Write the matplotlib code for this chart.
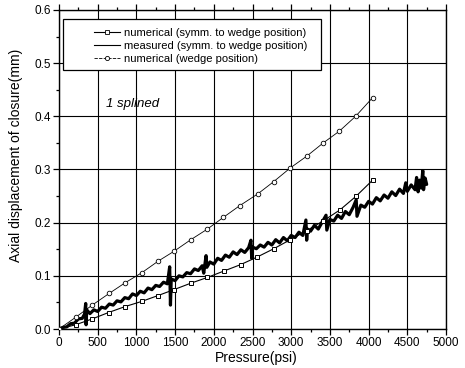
import matplotlib
matplotlib.use("Agg")
import matplotlib.pyplot as plt
from matplotlib.lines import Line2D
from matplotlib.patches import Rectangle
from matplotlib.ticker import MultipleLocator, FormatStrFormatter

plt.rcParams['font.family'] = ['Liberation Sans', 'DejaVu Sans']

# Numerical model, wedge position
p_wedge = [0, 215, 430, 649, 855, 1071, 1285, 1484, 1703, 1918, 2124, 2335,
           2567, 2772, 2989, 3200, 3414, 3621, 3832, 4051]
d_wedge = [0.000, 0.022, 0.045, 0.067, 0.087, 0.106, 0.128, 0.146, 0.168, 0.188,
           0.210, 0.232, 0.254, 0.277, 0.303, 0.325, 0.350, 0.372, 0.400, 0.435]

# Numerical model, symmetric to wedge position
p_symm = [0, 215, 430, 640, 850, 1071, 1281, 1484, 1700, 1918, 2130, 2345,
          2555, 2775, 2989, 3200, 3410, 3630, 3840, 4059]
d_symm = [0.000, 0.008, 0.019, 0.031, 0.042, 0.052, 0.063, 0.074, 0.086, 0.097,
          0.109, 0.121, 0.135, 0.151, 0.168, 0.185, 0.203, 0.224, 0.250, 0.281]

# Measured closure displacement, symmetric to wedge position
p_meas = [0, 50, 100, 150, 200, 250, 300, 330, 345, 350, 358, 400, 450, 500,
          550, 600, 650, 700, 750, 800, 850, 900, 950, 1000, 1050, 1100, 1150,
          1200, 1250, 1300, 1350, 1400, 1430, 1440, 1450, 1500, 1550, 1600,
          1650, 1700, 1750, 1800, 1850, 1870, 1900, 1910, 1950, 2000, 2050,
          2100, 2150, 2200, 2250, 2300, 2350, 2400, 2450, 2480, 2490, 2500,
          2550, 2600, 2650, 2700, 2750, 2800, 2850, 2900, 2950, 3000, 3050,
          3100, 3150, 3190, 3200, 3210, 3250, 3300, 3350, 3400, 3450, 3460,
          3500, 3550, 3600, 3650, 3700, 3750, 3800, 3840, 3850, 3900, 3950,
          4000, 4050, 4100, 4150, 4200, 4250, 4300, 4350, 4400, 4450, 4480,
          4500, 4550, 4600, 4620, 4640, 4660, 4680, 4700, 4710, 4730, 4750]
d_meas = [0.000, 0.003, 0.004, 0.010, 0.011, 0.019, 0.020, 0.028, 0.048, 0.008,
          0.036, 0.029, 0.036, 0.033, 0.041, 0.039, 0.047, 0.045, 0.053, 0.051,
          0.059, 0.057, 0.066, 0.063, 0.071, 0.068, 0.077, 0.074, 0.082, 0.080,
          0.088, 0.085, 0.117, 0.045, 0.094, 0.091, 0.100, 0.098, 0.106, 0.104,
          0.113, 0.110, 0.119, 0.105, 0.138, 0.116, 0.126, 0.122, 0.133, 0.129,
          0.139, 0.135, 0.145, 0.140, 0.149, 0.144, 0.153, 0.167, 0.133, 0.154,
          0.151, 0.158, 0.154, 0.163, 0.158, 0.168, 0.162, 0.172, 0.166, 0.176,
          0.172, 0.182, 0.176, 0.205, 0.167, 0.188, 0.184, 0.195, 0.188, 0.201,
          0.214, 0.186, 0.206, 0.203, 0.214, 0.208, 0.221, 0.215, 0.229, 0.243,
          0.212, 0.233, 0.229, 0.240, 0.235, 0.247, 0.241, 0.252, 0.246, 0.258,
          0.251, 0.263, 0.255, 0.275, 0.259, 0.271, 0.262, 0.285, 0.258, 0.280,
          0.265, 0.298, 0.262, 0.284, 0.272]

labels = ["numerical (symm. to wedge position)",
          "measured (symm. to wedge position)",
          "numerical (wedge position)"]

fig = plt.figure(figsize=(4.65, 3.68), dpi=100)
ax = fig.add_axes([59 / 465, 1 - 329 / 368, 387 / 465, 319 / 368])

ax.set_xlim(0, 5000)
ax.set_ylim(0, 0.6)
ax.xaxis.set_major_locator(MultipleLocator(500))
ax.xaxis.set_minor_locator(MultipleLocator(250))
ax.yaxis.set_major_locator(MultipleLocator(0.1))
ax.yaxis.set_minor_locator(MultipleLocator(0.05))
ax.yaxis.set_major_formatter(FormatStrFormatter('%.1f'))

ax.grid(True, which='major', color='black', linewidth=0.8)
ax.set_axisbelow(True)
for s in ax.spines.values():
    s.set_linewidth(1.0)

ax.tick_params(which='both', direction='out', top=True, right=False,
               labelsize=8.5, width=0.9, pad=2)
ax.tick_params(which='major', length=4)
ax.tick_params(which='minor', length=2.5)

ax.plot(p_meas, d_meas, color='black', linewidth=2.3, zorder=3,
        solid_joinstyle='round', solid_capstyle='round')
ax.plot(p_symm, d_symm, color='black', linewidth=0.8, marker='s',
        markersize=3.5, markerfacecolor='white', markeredgewidth=0.7, zorder=4)
ax.plot(p_wedge, d_wedge, color='black', linewidth=0.6, marker='o',
        markersize=3.3, markerfacecolor='white', markeredgewidth=0.6, zorder=4)

ax.text(610, 0.424, "1 splined", fontsize=9.5, style='italic',
        ha='left', va='center')

ax.set_xlabel("Pressure(psi)", fontsize=10)
ax.xaxis.set_label_coords(0.509, -0.068)
ax.set_ylabel("Axial displacement of closure(mm)", fontsize=10)
ax.yaxis.set_label_coords(-0.092, 0.545)

# Legend box
ax.add_patch(Rectangle((0.010, 0.812), 0.667, 0.160, transform=ax.transAxes,
                       facecolor='white', edgecolor='black', linewidth=0.9,
                       zorder=5))
handles = [
    Line2D([], [], color='black', linewidth=0.8, marker='s', markersize=3,
           markerfacecolor='white', markeredgewidth=0.6),
    Line2D([], [], color='black', linewidth=0.8),
    Line2D([], [], color='black', linewidth=0.6, marker='o', markersize=3,
           markerfacecolor='white', markeredgewidth=0.6, linestyle='--',
           dashes=(4, 1.5)),
]
leg = ax.legend(handles, labels, loc='upper left', bbox_to_anchor=(0.075, 0.962),
                frameon=False, fontsize=8, numpoints=1, borderpad=0,
                handlelength=2.4, handletextpad=0.3, labelspacing=0.3)
leg.set_zorder(6)

fig.savefig("out.png", dpi=100)
